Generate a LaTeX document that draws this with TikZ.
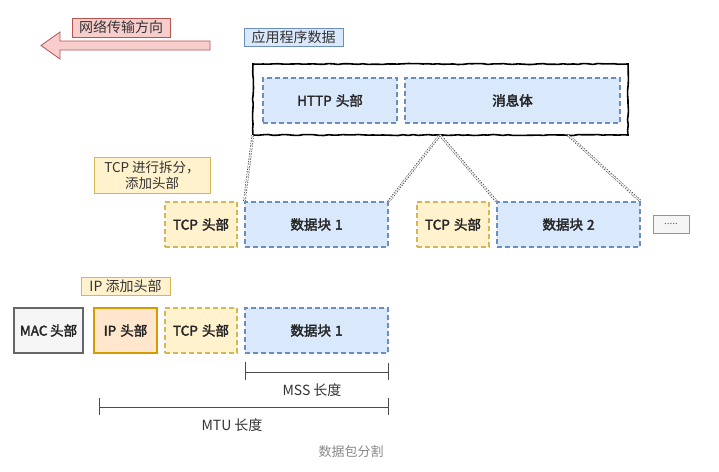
\documentclass[tikz,border=0pt]{standalone}
\usepackage{fontspec}
\setmainfont{Noto Sans CJK SC}
\newfontfamily\cjkbold[FakeBold=2.5]{Noto Sans CJK SC}
\usetikzlibrary{decorations.pathmorphing,calc}
\definecolor{bfill}{HTML}{DAE8FC}\definecolor{bline}{HTML}{6C8EBF}
\definecolor{yfill}{HTML}{FFF2CC}\definecolor{yline}{HTML}{D6B656}
\definecolor{ofill}{HTML}{FFE6CC}\definecolor{oline}{HTML}{D79B00}
\definecolor{gfill}{HTML}{F5F5F5}\definecolor{gline}{HTML}{666666}
\definecolor{rfill}{HTML}{F8CECC}\definecolor{rline}{HTML}{B85450}
\definecolor{capgray}{HTML}{888888}
\tikzset{
  blk/.style={inner sep=0pt, font=\cjkbold\fontsize{13.5}{15}\selectfont, text=black!85},
  bluebox/.style={blk, draw=bline, fill=bfill, line width=1.3pt, dash pattern=on 5pt off 3pt},
  ylwbox/.style={blk, draw=yline, fill=yfill, line width=1.3pt, dash pattern=on 5pt off 3pt},
  ipbox/.style={blk, draw=oline, fill=ofill, line width=1.6pt},
  macbox/.style={blk, draw=gline, fill=gfill, line width=1.6pt, font=\cjkbold\itshape\fontsize{13.5}{15}\selectfont},
  lbl/.style={inner sep=0pt, font=\fontsize{14}{16}\selectfont, text=black!80},
  connl/.style={draw=black!80, double=white, double distance=1.3pt, line width=0.6pt, dash pattern=on 1.3pt off 1.3pt},
  dimline/.style={draw=black!70, line width=0.9pt},
}
\begin{document}
\begin{tikzpicture}[x=1pt,y=-1pt]
\useasboundingbox (0,0) rectangle (719,471);
% direction arrow
\draw[rline, fill=rfill, line width=0.8pt] (41,45.5) -- (60,32) -- (60,41) -- (210,41) -- (210,50) -- (60,50) -- (60,59) -- cycle;
\node[lbl, draw=rline, fill=rfill, minimum width=98pt, minimum height=19pt] (dir) at (121,27.5) {网络传输方向};
\node[lbl, draw=bline, fill=bfill, minimum width=99pt, minimum height=18pt] (appl) at (293.5,37) {应用程序数据};
% application data
\draw[black, line width=1.6pt, fill=white, decorate, decoration={random steps, segment length=5pt, amplitude=0.5pt}] (253,64) rectangle (628,135);
\node[minimum width=375pt, minimum height=71pt, inner sep=0pt] (app) at (440.5,99.5) {};
\node[bluebox, minimum width=134pt, minimum height=45pt] (http) at (330,100.5) {HTTP\hspace{0.3em}头部};
\node[bluebox, minimum width=215pt, minimum height=45pt] (msg) at (512.5,100.5) {消息体};
% TCP segmentation
\node[lbl, draw=yline, fill=yfill, minimum width=116pt, minimum height=36pt, align=center, font=\fontsize{13.5}{16}\selectfont] (tcpl) at (152,175) {TCP 进行拆分，\\添加头部};
\node[ylwbox, minimum width=72pt, minimum height=45pt] (th1) at (201,224.5) {TCP\hspace{0.3em}头部};
\node[bluebox, minimum width=143pt, minimum height=45pt] (d1) at (316.5,224.5) {数据块\hspace{0.3em}1};
\node[ylwbox, minimum width=72pt, minimum height=45pt] (th2) at (453,224.5) {TCP\hspace{0.3em}头部};
\node[bluebox, minimum width=143pt, minimum height=45pt] (d2) at (568.5,224.5) {数据块\hspace{0.3em}2};
\node[draw=gline!70, fill=gfill, line width=0.8pt, minimum width=36pt, minimum height=18pt, inner sep=0pt, text=black!60, font=\fontsize{10}{11}\selectfont] (more) at (671,224) {.....};
% connectors
\coordinate (s1) at (440,135);
\coordinate (s2) at (568,135);
\draw[connl] (app.south west) -- (d1.north west);
\draw[connl] (s1) -- (d1.north east);
\draw[connl] (s1) -- (d2.north west);
\draw[connl] (s2) -- (d2.north east);
% IP layer
\node[lbl, draw=yline, fill=yfill, minimum width=89pt, minimum height=18pt] (ipl) at (125.5,286) {IP 添加头部};
\node[macbox, minimum width=69pt, minimum height=45pt] (mac) at (48.5,330.5) {MAC\hspace{0.2em}头部};
\node[ipbox, minimum width=63pt, minimum height=45pt] (ip) at (125.5,330.5) {IP\hspace{0.3em}头部};
\node[ylwbox, minimum width=72pt, minimum height=45pt] (th3) at (201,330.5) {TCP\hspace{0.3em}头部};
\node[bluebox, minimum width=143pt, minimum height=45pt] (d3) at (316.5,330.5) {数据块\hspace{0.3em}1};
% dimension lines
\coordinate (m1) at (245,372);
\coordinate (m2) at (388,372);
\draw[dimline] (m1) -- (m2);
\draw[dimline] ($(m1)+(0,-10)$) -- ($(m1)+(0,8)$);
\draw[dimline] ($(m2)+(0,-9)$) -- ($(m2)+(0,8)$);
\node[lbl] (mss) at (312,390) {MSS 长度};
\coordinate (u1) at (99,407);
\coordinate (u2) at (388,407);
\draw[dimline] (u1) -- (u2);
\draw[dimline] ($(u1)+(0,-9)$) -- ($(u1)+(0,8)$);
\draw[dimline] ($(u2)+(0,-9)$) -- ($(u2)+(0,8)$);
\node[lbl] (mtu) at (232,425) {MTU 长度};
\node[inner sep=0pt, text=capgray, font=\fontsize{13}{15}\selectfont] (cap) at (351,452) {数据包分割};
\end{tikzpicture}
\end{document}
